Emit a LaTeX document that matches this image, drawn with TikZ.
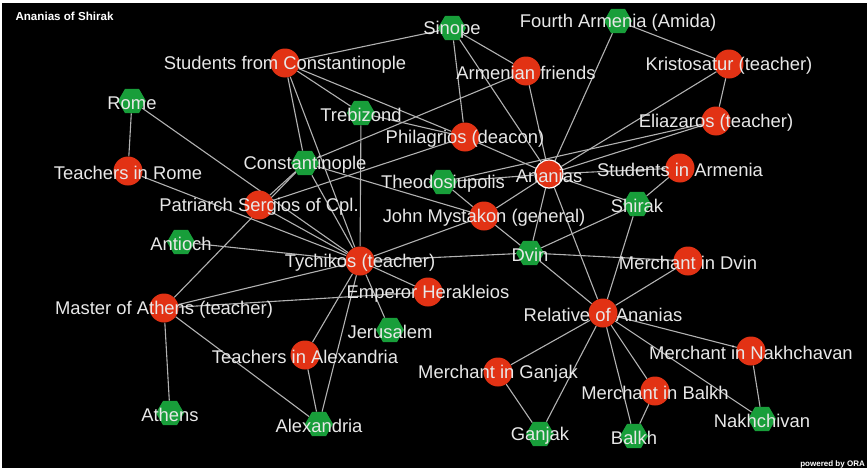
\documentclass[tikz,border=0pt]{standalone}
\usepackage{fontspec}
\setmainfont{Liberation Sans}
\usetikzlibrary{shapes.geometric}
\usetikzlibrary{backgrounds}
\definecolor{placegreen}{RGB}{24,158,58}
\definecolor{actorred}{RGB}{226,50,20}
\definecolor{linkgray}{RGB}{178,178,178}
\definecolor{tagwhite}{RGB}{232,232,232}

\begin{document}
\begin{tikzpicture}[x=1pt,y=-1pt,
  place/.style={regular polygon,regular polygon sides=6,minimum size=28pt,inner sep=0pt,fill=placegreen},
  actor/.style={circle,minimum size=29pt,inner sep=0pt,fill=actorred},
  tag/.style={text=tagwhite,inner sep=0pt,yshift=-2pt,font=\fontsize{18.4}{20}\selectfont},
  link/.style={draw=linkgray,line width=1.1pt}]
\useasboundingbox (0,0) rectangle (867,471);

% places (green) and actors (red)
\node[place,label={[tag]center:Sinope}] (sinope) at (452,28) {};
\node[place,label={[tag]center:Fourth Armenia (Amida)}] (amida) at (618,21) {};
\node[actor,label={[tag]center:Students from Constantinople}] (studcpl) at (285,63) {};
\node[actor,label={[tag]center:Armenian friends}] (armfriends) at (526,71) {};
\node[actor,label={[tag]center:Kristosatur (teacher)}] (kristosatur) at (729,64) {};
\node[place,label={[tag]center:Rome}] (rome) at (132,101) {};
\node[place,label={[tag]center:Trebizond}] (trebizond) at (361,113) {};
\node[actor,label={[tag]center:Philagrios (deacon)}] (philagrios) at (465,137) {};
\node[actor,label={[tag]center:Eliazaros (teacher)}] (eliazaros) at (716,121) {};
\node[place,label={[tag]center:Constantinople}] (cpl) at (305,163) {};
\node[actor,label={[tag]center:Teachers in Rome}] (teachrome) at (128,171) {};
\node[actor,draw=white,line width=1.2pt,minimum size=28pt,label={[tag]center:Ananias}] (ananias) at (549,174) {};
\node[actor,label={[tag]center:Students in Armenia}] (studarm) at (680,168) {};
\node[place,label={[tag]center:Theodosiupolis}] (theodo) at (443,182) {};
\node[place,label={[tag]center:Shirak}] (shirak) at (637,204) {};
\node[actor,label={[tag]center:Patriarch Sergios of Cpl.}] (sergios) at (259,205) {};
\node[actor,label={[tag]center:John Mystakon (general)}] (mystakon) at (484,216) {};
\node[place,label={[tag]center:Antioch}] (antioch) at (181,242) {};
\node[place,label={[tag]center:Dvin}] (dvin) at (530,253) {};
\node[actor,label={[tag]center:Tychikos (teacher)}] (tychikos) at (360,261) {};
\node[actor,label={[tag]center:Merchant in Dvin}] (merchdvin) at (688,261) {};
\node[actor,label={[tag]center:Emperor Herakleios}] (herakleios) at (428,292) {};
\node[actor,label={[tag]center:Master of Athens (teacher)}] (masterath) at (164,308) {};
\node[actor,label={[tag]center:Relative of Ananias}] (relative) at (603,313) {};
\node[place,label={[tag]center:Jerusalem}] (jerusalem) at (390,330) {};
\node[actor,label={[tag]center:Teachers in Alexandria}] (teachalex) at (305,355) {};
\node[actor,label={[tag]center:Merchant in Nakhchavan}] (merchnakh) at (751,351) {};
\node[actor,label={[tag]center:Merchant in Ganjak}] (merchganjak) at (498,372) {};
\node[actor,label={[tag]center:Merchant in Balkh}] (merchbalkh) at (655,391) {};
\node[place,label={[tag]center:Athens}] (athens) at (170,413) {};
\node[place,label={[tag]center:Alexandria}] (alexandria) at (319,424) {};
\node[place,label={[tag]center:Nakhchivan}] (nakhchivan) at (762,419) {};
\node[place,label={[tag]center:Ganjak}] (ganjak) at (540,434) {};
\node[place,label={[tag]center:Balkh}] (balkh) at (634,436) {};

\begin{scope}[on background layer]
\fill[white] (0,0) rectangle (867,471);
\fill[black] (2,3) rectangle (867,468);
% links
\draw[link] (rome) -- (teachrome);
\draw[link] (rome) -- (tychikos);
\draw[link] (teachrome) -- (tychikos);
\draw[link] (studcpl) -- (sinope);
\draw[link] (studcpl) -- (trebizond);
\draw[link] (studcpl) -- (philagrios);
\draw[link] (studcpl) -- (cpl);
\draw[link] (studcpl) -- (tychikos);
\draw[link] (sinope) -- (philagrios);
\draw[link] (sinope) -- (armfriends);
\draw[link] (sinope) -- (ananias);
\draw[link] (amida) -- (kristosatur);
\draw[link] (amida) -- (ananias);
\draw[link] (kristosatur) -- (eliazaros);
\draw[link] (kristosatur) -- (ananias);
\draw[link] (eliazaros) -- (ananias);
\draw[link] (eliazaros) -- (theodo);
\draw[link] (armfriends) -- (ananias);
\draw[link] (armfriends) -- (cpl);
\draw[link] (trebizond) -- (tychikos);
\draw[link] (trebizond) -- (philagrios);
\draw[link] (philagrios) -- (ananias);
\draw[link] (cpl) -- (sergios);
\draw[link] (cpl) -- (tychikos);
\draw[link] (cpl) -- (mystakon);
\draw[link] (sergios) -- (tychikos);
\draw[link] (sergios) -- (philagrios);
\draw[link] (masterath) -- (cpl);
\draw[link] (masterath) -- (tychikos);
\draw[link] (masterath) -- (herakleios);
\draw[link] (masterath) -- (athens);
\draw[link] (masterath) -- (alexandria);
\draw[link] (antioch) -- (tychikos);
\draw[link] (tychikos) -- (herakleios);
\draw[link] (tychikos) -- (jerusalem);
\draw[link] (tychikos) -- (teachalex);
\draw[link] (tychikos) -- (alexandria);
\draw[link] (teachalex) -- (alexandria);
\draw[link] (tychikos) -- (dvin);
\draw[link] (tychikos) -- (mystakon);
\draw[link] (mystakon) -- (dvin);
\draw[link] (mystakon) -- (theodo);
\draw[link] (mystakon) -- (ananias);
\draw[link] (theodo) -- (ananias);
\draw[link] (ananias) -- (studarm);
\draw[link] (ananias) -- (shirak);
\draw[link] (ananias) -- (dvin);
\draw[link] (ananias) -- (relative);
\draw[link] (shirak) -- (studarm);
\draw[link] (shirak) -- (relative);
\draw[link] (dvin) -- (shirak);
\draw[link] (dvin) -- (merchdvin);
\draw[link] (dvin) -- (relative);
\draw[link] (relative) -- (merchdvin);
\draw[link] (relative) -- (merchganjak);
\draw[link] (relative) -- (ganjak);
\draw[link] (relative) -- (balkh);
\draw[link] (relative) -- (merchbalkh);
\draw[link] (relative) -- (merchnakh);
\draw[link] (relative) -- (nakhchivan);
\draw[link] (merchganjak) -- (ganjak);
\draw[link] (merchbalkh) -- (balkh);
\draw[link] (merchnakh) -- (nakhchivan);
\end{scope}

\node[text=white,font=\bfseries\fontsize{11.6}{13}\selectfont,anchor=base west] (title) at (12,20) {Ananias of Shirak};
\node[text=white,font=\bfseries\fontsize{8}{9}\selectfont,anchor=base east,inner sep=0pt] (credit) at (865,466) {powered by ORA};
\end{tikzpicture}
\end{document}
